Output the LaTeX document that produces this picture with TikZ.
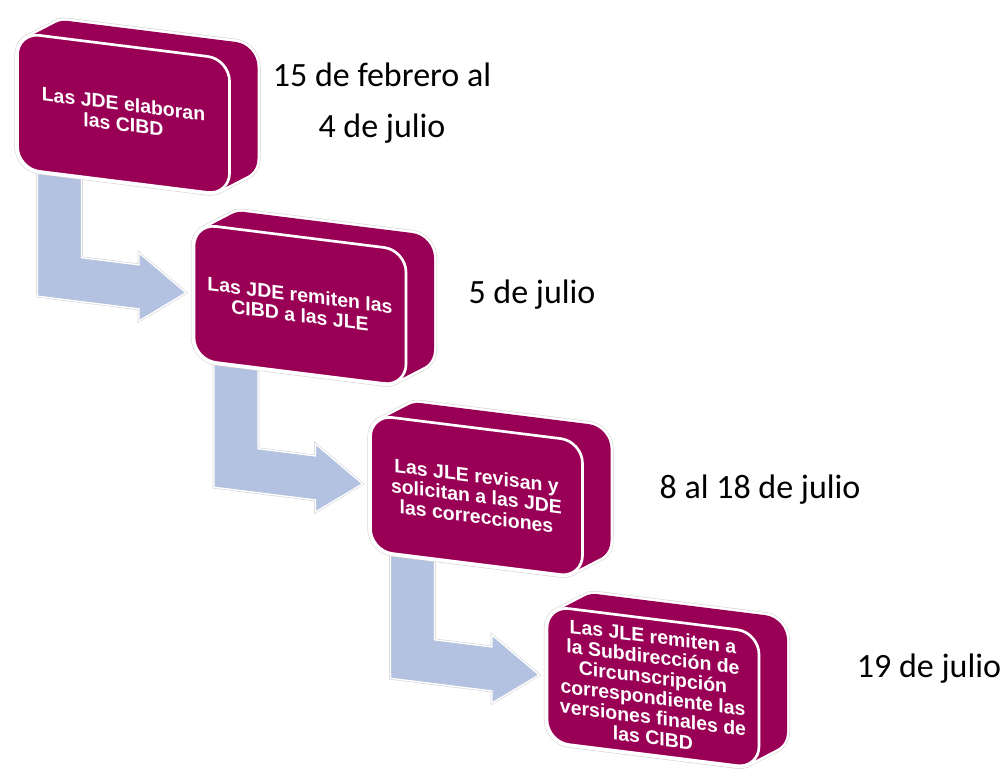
\documentclass[tikz,border=0pt]{standalone}
\usepackage{fontspec}
\setmainfont{Carlito}
\setsansfont{Liberation Sans}
\usepackage{xcolor}
\usepackage{tikz}
\usetikzlibrary{calc}
\definecolor{plum}{RGB}{153,0,85}
\definecolor{arrowblue}{RGB}{179,194,225}
\pgfdeclarelayer{background}
\pgfsetlayers{background,main}

\begin{document}
\begin{tikzpicture}[x=0.75pt, y=-0.75pt,
    boxbody/.style={fill=plum, preaction={draw=gray!35, line width=4.6pt}, preaction={draw=white, line width=3.8pt}},
    front/.style={rectangle, rounded corners=16.5pt, fill=plum, draw=white, line width=2pt,
      minimum width=159pt, minimum height=102pt, inner sep=0pt, transform shape, text=white,
      align=center, font=\sffamily\bfseries\fontsize{14.6}{15.2}\selectfont},
    bentarrow/.style={fill=arrowblue, draw=white, line width=1pt, preaction={draw=gray!30, line width=2pt}},
    date/.style={anchor=base, font=\fontsize{25.5}{30}\selectfont}]
    \useasboundingbox (0,0) rectangle (1005,773);

    \begin{scope}[yslant=-0.125]
    % Boxes (front face plus the part seen behind it)
    \foreach \i/\pos/\txt in {1/{123.5,98.5}/{Las JDE elaboran\\las CIBD},
        2/{300,267.5}/{Las JDE remiten las\\CIBD a las JLE},
        3/{476.5,436.5}/{Las JLE revisan y\\solicitan a las JDE\\las correcciones},
        4/{653,605.5}/{Las JLE remiten a\\la Subdirección de\\Circunscripción\\correspondiente las\\versiones finales de\\las CIBD}} {
      \begin{scope}[shift={(\pos)}]
        \path[boxbody, rounded corners=16.5pt] (-106,-68) -- (106,-68) -- (106,68) -- (-106,68) -- cycle
          (-78,-86) -- (134,-86) -- (134,50) -- (-78,50) -- cycle
          [sharp corners] (-95.9,-64.5) -- (-67.9,-82.5) -- (123.9,46.5) -- (95.9,64.5) -- cycle;
        \node[front] (b\i) at (0,0) {\txt};
      \end{scope}
    }

    % Bent arrows between the boxes
    \begin{pgfonlayer}{background}
      \foreach \p/\n in {b1/b2,b2/b3,b3/b4}
        \path[bentarrow] ($(\p)+(-86,40)$) -- ($(\n)+(-262.5,24)$) -- ($(\n)+(-161,24)$) -- ($(\n)+(-161,36)$)
          -- ($(\n)+(-114,2)$) -- ($(\n)+(-161,-32)$) -- ($(\n)+(-161,-20)$) -- ($(\n)+(-218.5,-20)$)
          -- ($(\p)+(-42,40)$) -- cycle;
    \end{pgfonlayer}
    \end{scope}

    % Dates
    \node[date] (d1) at (382,87) {15 de febrero al};
    \node[date] (d1b) at (382,138) {4 de julio};
    \node[date] (d2) at (532,303) {5 de julio};
    \node[date] (d3) at (760,498) {8 al 18 de julio};
    \node[date] (d4) at (929,677) {19 de julio};
\end{tikzpicture}
\end{document}
